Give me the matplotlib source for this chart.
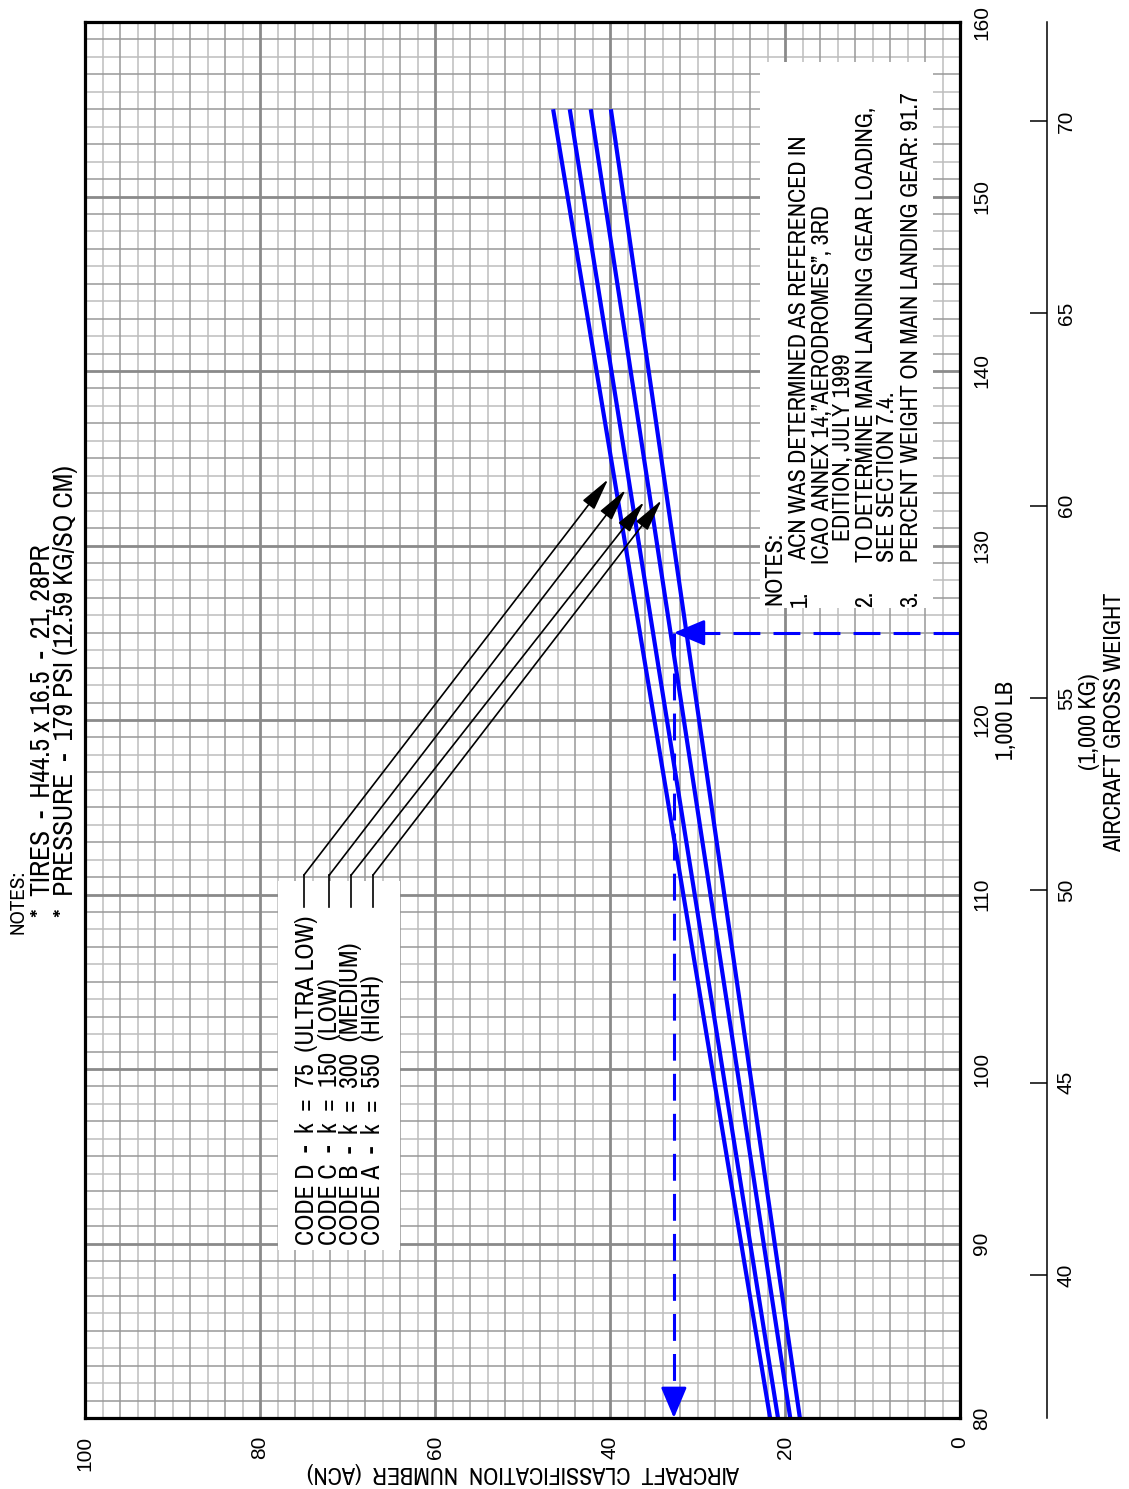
import matplotlib
matplotlib.use("Agg")
import numpy as np
import matplotlib.pyplot as plt
from matplotlib import font_manager
from matplotlib.patches import Rectangle

# ACN chart, drawn page-rotated: x = ACN (100 on the left), y = gross weight (1,000 lb)
W, H = 1129, 1489

GROSS_WEIGHT_LB = [80, 155]
ACN_CODE_D = [21.7, 46.5]   # ultra low, k = 75
ACN_CODE_C = [20.8, 44.6]   # low, k = 150
ACN_CODE_B = [19.4, 42.2]   # medium, k = 300
ACN_CODE_A = [18.3, 39.9]   # high, k = 550

CODE_LABELS = [
    "CODE D  -  k  =  75  (ULTRA LOW)",
    "CODE C  -  k  =  150  (LOW)",
    "CODE B  -  k  =  300  (MEDIUM)",
    "CODE A  -  k  =  550  (HIGH)",
]

# worked example
EXAMPLE_WEIGHT_LB = 125
EXAMPLE_ACN = 32.7

# leader arrows from the legend to the curves
LEADER_START_ACN = [75.0, 72.1, 69.6, 67.1]
LEADER_TIP_ACN = [40.2, 38.2, 36.1, 34.1]
LEADER_TIP_LB = [133.8, 133.2, 132.5, 132.6]

ACN_TICKS = [0, 20, 40, 60, 80, 100]
LB_TICKS = [80, 90, 100, 110, 120, 130, 140, 150, 160]
KG_TICKS = [40, 45, 50, 55, 60, 65, 70]
LB_PER_KG = 2.20462

# pick a narrow face if one is installed, the drawing lettering is condensed
_have = {f.name for f in font_manager.fontManager.ttflist}
NARROW = "DejaVu Sans"
for cand in ["Liberation Sans Narrow", "Arial Narrow", "Archivo Narrow",
             "PT Sans Narrow", "Roboto Condensed", "IBM Plex Sans Condensed",
             "Fira Sans Condensed", "Open Sans Condensed", "Sofia Sans Condensed",
             "Encode Sans Condensed", "Asap Condensed"]:
    if cand in _have:
        NARROW = cand
        break
NARROW = [NARROW, "DejaVu Sans"]
SANS = ["Liberation Sans", "DejaVu Sans"]


def px(x, y):
    return x / W, 1 - y / H


L, R, T, B = 85, 960, 22, 1418
fig = plt.figure(figsize=(W / 100, H / 100), dpi=100)
ax = fig.add_axes([L / W, 1 - B / H, (R - L) / W, (B - T) / H])
ax.set_xlim(100, 0)
ax.set_ylim(80, 160)

# graph paper grid
for v in range(2, 100, 2):
    if v % 20 == 0:
        ax.axvline(v, color="#8a8a8a", lw=2.0, zorder=0.6)
    elif v % 4 == 0:
        ax.axvline(v, color="#999999", lw=1.1, zorder=0.5)
    else:
        ax.axvline(v, color="#bdbdbd", lw=1.1, zorder=0.4)
for w in range(81, 160):
    if w % 10 == 0:
        ax.axhline(w, color="#8a8a8a", lw=2.0, zorder=0.6)
    elif w % 2 == 1:
        ax.axhline(w, color="#999999", lw=1.1, zorder=0.5)
    else:
        ax.axhline(w, color="#bdbdbd", lw=1.1, zorder=0.4)

# white boxes behind the legend and notes
ax.add_patch(Rectangle((64.0, 89.6), 77.9 - 64.0, 110.8 - 89.6,
                       facecolor="white", edgecolor="none", zorder=1))
ax.add_patch(Rectangle((3.1, 126.4), 22.9 - 3.1, 157.7 - 126.4,
                       facecolor="white", edgecolor="none", zorder=1))

# ACN curves
for acn in [ACN_CODE_D, ACN_CODE_C, ACN_CODE_B, ACN_CODE_A]:
    ax.plot(acn, GROSS_WEIGHT_LB, color="#0000ff", lw=3.0,
            solid_capstyle="butt", zorder=3)

# leaders
for s, ta, tw in zip(LEADER_START_ACN, LEADER_TIP_ACN, LEADER_TIP_LB):
    ax.plot([s, s], [109.3, 111.1], color="black", lw=1.2, zorder=4)
    ax.annotate("", xy=(ta, tw), xytext=(s, 111.1),
                arrowprops=dict(arrowstyle="-|>,head_length=2.0,head_width=0.45",
                                mutation_scale=10, color="black", lw=1.2,
                                shrinkA=0, shrinkB=0), zorder=4)

# worked example, dashed with arrows
ax.plot([0, EXAMPLE_ACN - 3.0], [EXAMPLE_WEIGHT_LB, EXAMPLE_WEIGHT_LB],
        color="#0000ff", lw=2.2, dashes=(8.8, 4.3), zorder=3)
ax.plot([EXAMPLE_ACN, EXAMPLE_ACN], [EXAMPLE_WEIGHT_LB, 80 + 1.5],
        color="#0000ff", lw=2.2, dashes=(8.8, 4.3), zorder=3)
head = dict(arrowstyle="-|>,head_length=1.9,head_width=0.8", mutation_scale=10,
            color="#0000ff", lw=2.0, shrinkA=0, shrinkB=0)
ax.annotate("", xy=(EXAMPLE_ACN, EXAMPLE_WEIGHT_LB),
            xytext=(EXAMPLE_ACN - 3.2, EXAMPLE_WEIGHT_LB), arrowprops=head, zorder=3)
ax.annotate("", xy=(EXAMPLE_ACN, 80), xytext=(EXAMPLE_ACN, 81.6),
            arrowprops=head, zorder=3)

# axes, ticks
for sp in ax.spines.values():
    sp.set_linewidth(2.3)
    sp.set_color("black")
    sp.set_zorder(5)
ax.set_xticks(ACN_TICKS)
ax.set_xticklabels([str(v) for v in ACN_TICKS], rotation=90,
                   fontfamily=SANS, fontsize=15)
ax.tick_params(axis="x", length=0, pad=13)
ax.yaxis.tick_right()
ax.set_yticks(LB_TICKS)
ax.set_yticklabels([str(v) for v in LB_TICKS], rotation=90,
                   fontfamily=SANS, fontsize=15, va="center")
ax.tick_params(axis="y", length=0, pad=9)

# kg scale
ax_kg = fig.add_axes([L / W, 1 - B / H, (1047 - L) / W, (B - T) / H],
                     facecolor="none")
ax_kg.set_ylim(80 / LB_PER_KG, 160 / LB_PER_KG)
for side in ["left", "top", "bottom"]:
    ax_kg.spines[side].set_visible(False)
ax_kg.spines["right"].set_linewidth(1.1)
ax_kg.set_xticks([])
ax_kg.yaxis.tick_right()
ax_kg.set_yticks(KG_TICKS)
ax_kg.set_yticklabels([str(v) for v in KG_TICKS], rotation=90,
                      fontfamily=SANS, fontsize=15, va="center")
ax_kg.tick_params(axis="y", direction="in", length=12, width=1.1, pad=7)


def vtext(x, y, s, size=16, rot=90, ha="center", va="bottom"):
    return fig.text(*px(x, y), s, rotation=rot, ha=ha, va=va,
                    fontfamily=NARROW, fontsize=size)


# (text, length in px measured on the drawing)
legend = [(vtext(x, 1245, s), n) for s, x, n in
          zip(CODE_LABELS, [307, 329, 351, 373], [327, 270, 300, 273])]

top_notes = [
    (vtext(42, 917, "*  TIRES  -  H44.5 x 16.5  -  21, 28PR", 19), 384),
    (vtext(66, 917, "*  PRESSURE  -  179 PSI (12.59 KG/SQ CM)", 19), 439),
]
top_head = [(vtext(18, 934, "NOTES:", 13), 64)]

box_notes = [
    (vtext(775, 605, "NOTES:"), 58),
    (vtext(800, 560, "ACN WAS DETERMINED AS REFERENCED IN"), 415),
    (vtext(822, 564, "ICAO ANNEX 14,\u201dAERODROMES\u201d, 3RD"), 375),
    (vtext(844, 541, "EDITION, JULY 1999"), 195),
    (vtext(866, 562, "TO DETERMINE MAIN LANDING GEAR LOADING,"), 444),
    (vtext(888, 562, "SEE SECTION 7.4."), 170),
    (vtext(911, 562, "PERCENT WEIGHT ON MAIN LANDING GEAR: 91.7"), 476),
]
box_nums = [vtext(800, 607, "1."), vtext(866, 607, "2."), vtext(911, 607, "3.")]

titles = [
    (vtext(1006, 720, "1,000 LB", va="center"), 85),
    (vtext(1090, 722, "(1,000 KG)", va="center"), 105),
    (vtext(1115, 722, "AIRCRAFT GROSS WEIGHT", va="center"), 240),
    (vtext(523, 1473, "AIRCRAFT  CLASSIFICATION  NUMBER  (ACN)", rot=180,
           va="center"), 400),
]

# scale each group of lettering so its lines run as long as on the drawing
renderer = fig.canvas.get_renderer()


def fit(group, extra=()):
    ratios = []
    for t, n in group:
        bb = t.get_window_extent(renderer=renderer)
        length = bb.width if abs(t.get_rotation() - 180) < 1 else bb.height
        ratios.append(n / length)
    k = float(np.median(ratios))
    for t, _ in group:
        t.set_fontsize(t.get_fontsize() * k)
    for t in extra:
        t.set_fontsize(t.get_fontsize() * k)


fit(legend)
fit(top_notes)
fit(top_head)
fit(box_notes, box_nums)
fit(titles)

fig.savefig("out.png", dpi=100, facecolor="white")
